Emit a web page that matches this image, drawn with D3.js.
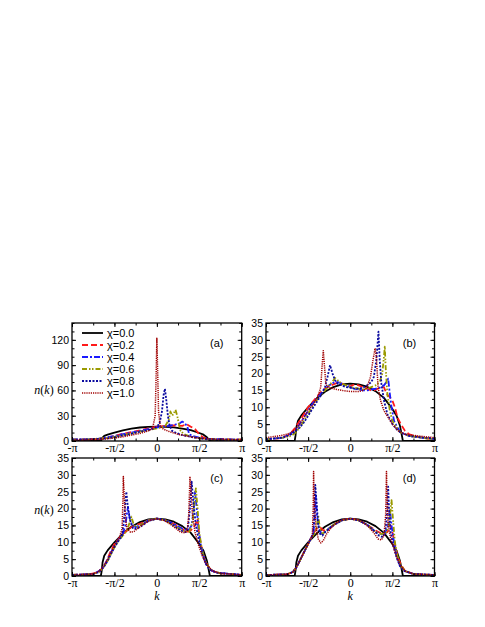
<!DOCTYPE html>
<html>
<head>
<meta charset="utf-8">
<script src="https://cdn.jsdelivr.net/npm/d3@7"></script>
<style>
  body { margin: 0; background: #fff; }
  svg { display: block; }
  .tick text { font-family: "Liberation Sans", Arial, sans-serif; font-size: 10.5px; fill: #000; }
  .xax .tick text { font-family: "Liberation Serif", "Times New Roman", serif; font-size: 12px; }
</style>
</head>
<body>
<script>
// momentum distributions n(k), k in units of pi
var chiLabels = ["\u03c7=0.0", "\u03c7=0.2", "\u03c7=0.4", "\u03c7=0.6", "\u03c7=0.8", "\u03c7=1.0"];
var kTicks = [-1, -0.5, 0, 0.5, 1];
var kTickLabels = ["-\u03c0", "-\u03c0/2", "0", "\u03c0/2", "\u03c0"];
var panelNames = ["(a)", "(b)", "(c)", "(d)"];

// chi = 0.0 is the same curve in every panel
var chi00 = [[-1,0],[-0.66,0],[-0.65,1.5],[-0.64,4],[-0.62,6],[-0.58,7.6],[-0.5,10],[-0.4,12.6],[-0.3,14.6],[-0.2,16],[-0.1,16.8],[0,17],[0.1,16.8],[0.2,16.1],[0.3,14.8],[0.4,12.8],[0.5,9.5],[0.55,7.5],[0.59,4.5],[0.61,2],[0.625,0],[1,0]];

// panel (a)
var a02 = [[-1,2],[-0.9,1.5],[-0.8,2.5],[-0.7,2],[-0.6,4],[-0.5,6],[-0.4,8.5],[-0.3,10.5],[-0.2,12.5],[-0.1,15],[0,17],[0.1,18],[0.2,18.5],[0.3,18],[0.35,20],[0.4,17],[0.45,14],[0.5,8],[0.55,4],[0.6,2.5],[0.7,2],[0.8,2.5],[0.9,1.5],[1,2]];
var a04 = [[-1,2],[-0.8,2],[-0.7,2.5],[-0.6,4],[-0.5,6],[-0.4,8],[-0.3,10],[-0.2,12],[-0.1,14],[0,16],[0.1,17.5],[0.2,19],[0.27,21],[0.3,23],[0.33,21],[0.36,17],[0.38,8],[0.42,6],[0.5,4],[0.6,2.5],[0.8,2],[1,1.5]];
var a06 = [[-1,1.5],[-0.8,2],[-0.6,3.5],[-0.5,5],[-0.4,7],[-0.3,9],[-0.2,11],[-0.1,13],[0,15],[0.05,16],[0.1,18],[0.14,25],[0.16,35],[0.18,30],[0.2,33],[0.22,37],[0.24,30],[0.26,20],[0.28,12],[0.32,8],[0.4,5],[0.5,3.5],[0.6,2],[0.8,1.5],[1,1.5]];
var a08 = [[-1,1.5],[-0.8,2],[-0.6,3],[-0.5,4.5],[-0.4,6.5],[-0.3,8.5],[-0.2,11],[-0.1,13],[-0.03,15],[0.03,20],[0.06,35],[0.08,55],[0.095,62],[0.11,50],[0.13,30],[0.15,18],[0.18,12],[0.22,10],[0.3,7],[0.4,5],[0.5,3],[0.6,2],[0.8,1.5],[1,1.5]];
var a10 = [[-1,1],[-0.8,1.5],[-0.6,2.5],[-0.5,3.5],[-0.4,5],[-0.3,7],[-0.2,9],[-0.1,12],[-0.05,15],[-0.02,30],[-0.01,70],[0,122],[0.01,80],[0.02,35],[0.04,17],[0.08,14],[0.15,11],[0.25,8],[0.35,6],[0.45,4],[0.55,3],[0.7,2],[0.85,1.5],[1,1.5]];

// panel (b)
var b02 = [[-1,0.5],[-0.85,0.8],[-0.75,1.5],[-0.7,2.5],[-0.65,4],[-0.6,6],[-0.55,8],[-0.5,10],[-0.45,11.5],[-0.4,13],[-0.35,14.5],[-0.3,15.5],[-0.25,16.3],[-0.2,16.8],[-0.15,17.3],[-0.1,17],[-0.05,16.5],[0,16.2],[0.05,16.8],[0.1,16.5],[0.15,16],[0.2,15.5],[0.25,15],[0.3,15.2],[0.35,15.8],[0.4,16],[0.43,14],[0.47,13],[0.5,12],[0.53,10],[0.56,7],[0.6,5],[0.65,3],[0.7,2],[0.8,1.2],[0.9,0.8],[1,0.5]];
var b04 = [[-1,0.5],[-0.8,1],[-0.72,2],[-0.66,3],[-0.6,5],[-0.55,7],[-0.5,9],[-0.45,11],[-0.4,12.5],[-0.35,14],[-0.3,15.5],[-0.25,16.5],[-0.2,17.3],[-0.15,17.5],[-0.1,17],[-0.05,16.5],[0,16],[0.05,15.5],[0.1,15.3],[0.15,15],[0.2,15],[0.25,15.3],[0.3,15.5],[0.35,15.8],[0.4,16.5],[0.43,17.5],[0.45,18.5],[0.47,14],[0.49,10],[0.52,6],[0.56,4],[0.6,2.5],[0.7,1.5],[0.85,1],[1,0.5]];
var b06 = [[-1,0.5],[-0.8,1],[-0.7,1.5],[-0.65,2.5],[-0.6,4],[-0.55,6],[-0.5,8],[-0.45,10],[-0.4,12],[-0.35,13.5],[-0.3,15],[-0.25,16.5],[-0.2,18],[-0.18,18.7],[-0.15,18],[-0.1,17],[-0.05,16.5],[0,16],[0.05,15.8],[0.1,15.5],[0.15,15.3],[0.2,15.5],[0.25,16],[0.3,16.5],[0.35,17.5],[0.38,20],[0.4,25],[0.41,28],[0.42,22],[0.44,14],[0.47,9],[0.5,6],[0.55,4],[0.6,2.5],[0.7,1.5],[0.85,1],[1,0.5]];
var b08 = [[-1,0.5],[-0.8,1],[-0.7,2],[-0.65,3],[-0.6,4],[-0.55,5.5],[-0.5,7.5],[-0.45,9.5],[-0.4,11.5],[-0.35,13.5],[-0.3,16],[-0.27,19],[-0.24,22.5],[-0.21,20],[-0.18,18],[-0.15,17],[-0.1,16.5],[-0.05,16],[0,15.8],[0.05,15.5],[0.1,15.5],[0.15,15.8],[0.2,16.5],[0.25,17.5],[0.28,19],[0.31,24],[0.335,32.4],[0.35,24],[0.37,17],[0.4,12],[0.44,8],[0.5,5],[0.55,3.5],[0.6,2.5],[0.7,1.5],[0.85,1],[1,0.8]];
var b10 = [[-1,1],[-0.85,1.5],[-0.75,2],[-0.7,2.5],[-0.65,3.5],[-0.6,5],[-0.55,7],[-0.5,9],[-0.45,10.5],[-0.42,11.6],[-0.38,13.5],[-0.35,16],[-0.335,22],[-0.32,26.8],[-0.305,22],[-0.29,17],[-0.27,16],[-0.2,15.5],[-0.1,15],[0,14.7],[0.1,14.7],[0.15,15],[0.2,16],[0.24,19],[0.27,24],[0.295,27.5],[0.31,25],[0.33,16],[0.36,12],[0.4,9],[0.45,7],[0.5,5],[0.57,3],[0.65,2],[0.8,1.5],[1,1]];

// panel (c)
var c02 = [[-1,0.3],[-0.8,0.5],[-0.7,1],[-0.65,2],[-0.6,4],[-0.55,7],[-0.5,9.5],[-0.45,11],[-0.4,12.5],[-0.35,13.5],[-0.3,14.5],[-0.25,15],[-0.2,15.5],[-0.1,16.5],[0,17],[0.1,16.5],[0.2,15.5],[0.3,14],[0.35,13],[0.4,13.5],[0.45,15],[0.48,17],[0.5,12],[0.53,8],[0.56,5],[0.6,3],[0.65,1.5],[0.75,0.8],[1,0.3]];
var c04 = [[-1,0.3],[-0.75,0.6],[-0.68,1.5],[-0.62,3],[-0.58,5],[-0.54,7],[-0.5,9],[-0.45,11],[-0.4,12.5],[-0.37,15],[-0.35,19],[-0.34,20.5],[-0.32,17],[-0.29,15],[-0.25,14.5],[-0.2,15],[-0.1,16.5],[0,17],[0.1,16.5],[0.2,15.5],[0.3,14],[0.37,13.5],[0.41,15],[0.43,19],[0.45,25],[0.47,20],[0.49,14],[0.52,9],[0.55,6],[0.58,3.5],[0.62,2],[0.7,1],[1,0.3]];
var c06 = [[-1,0.3],[-0.75,0.6],[-0.68,1.2],[-0.63,2.5],[-0.58,4.5],[-0.54,6.5],[-0.5,8.5],[-0.45,10.5],[-0.4,12],[-0.35,13.5],[-0.32,16],[-0.3,17.6],[-0.27,15],[-0.24,14.5],[-0.2,15],[-0.1,16.5],[0,17],[0.1,16.5],[0.2,15],[0.3,13.5],[0.38,13],[0.42,16],[0.44,21],[0.46,26],[0.48,20],[0.5,13],[0.53,8],[0.56,5],[0.6,3],[0.65,1.5],[0.75,0.8],[1,0.3]];
var c08 = [[-1,0.3],[-0.75,0.6],[-0.68,1.2],[-0.63,2.5],[-0.58,4.5],[-0.54,6.5],[-0.5,8.5],[-0.45,10.5],[-0.41,12],[-0.39,16],[-0.37,22],[-0.36,25],[-0.34,20],[-0.31,16],[-0.28,14],[-0.24,14],[-0.2,14.5],[-0.1,16.3],[0,17],[0.1,16.5],[0.2,15],[0.28,13.5],[0.34,13],[0.37,15],[0.39,20],[0.41,28],[0.43,22],[0.46,15],[0.5,10],[0.54,6],[0.58,3.5],[0.63,1.8],[0.7,1],[1,0.3]];
var c10 = [[-1,0.3],[-0.75,0.6],[-0.68,1.5],[-0.64,2.5],[-0.6,4],[-0.56,6],[-0.52,8],[-0.48,10],[-0.44,11.5],[-0.41,14],[-0.4,22],[-0.395,29.5],[-0.385,24],[-0.37,17],[-0.35,14],[-0.31,13],[-0.27,13.2],[-0.22,14.2],[-0.15,15.5],[-0.08,16.5],[0,17],[0.08,16.5],[0.15,15.5],[0.22,14.2],[0.28,13],[0.33,12.8],[0.36,14],[0.375,18],[0.385,25],[0.39,29.5],[0.4,26],[0.42,18],[0.45,13],[0.48,10],[0.52,7],[0.56,4.5],[0.6,3],[0.66,1.5],[0.75,0.8],[1,0.3]];

// panel (d)
var d02 = [[-1,0.3],[-0.75,0.5],[-0.68,1.2],[-0.64,2.5],[-0.6,4.5],[-0.56,6.5],[-0.52,8.5],[-0.48,10.5],[-0.44,12.5],[-0.4,14],[-0.36,14.5],[-0.32,13.5],[-0.28,13.5],[-0.24,14.2],[-0.2,15.2],[-0.1,16.5],[0,17],[0.1,16.5],[0.2,15.2],[0.3,13.5],[0.38,12.5],[0.44,13],[0.48,15],[0.5,13],[0.53,9.5],[0.56,6],[0.6,3.5],[0.65,1.5],[0.75,0.6],[1,0.3]];
var d04 = [[-1,0.3],[-0.75,0.5],[-0.68,1.2],[-0.64,2.5],[-0.6,4.5],[-0.56,6.5],[-0.52,8.5],[-0.48,10.5],[-0.44,12.5],[-0.42,17],[-0.41,24],[-0.395,18],[-0.37,14],[-0.34,12.5],[-0.3,13],[-0.25,14.2],[-0.2,15.2],[-0.1,16.5],[0,17],[0.1,16.5],[0.2,15.2],[0.28,13.5],[0.35,12.5],[0.41,12.5],[0.45,15],[0.47,20],[0.49,15],[0.52,10],[0.55,6],[0.59,3],[0.64,1.5],[0.75,0.6],[1,0.3]];
var d06 = [[-1,0.3],[-0.75,0.5],[-0.68,1.2],[-0.64,2.5],[-0.6,4.5],[-0.56,6.5],[-0.52,8.5],[-0.48,10.5],[-0.44,12],[-0.41,13],[-0.39,16],[-0.38,18],[-0.36,14],[-0.33,12.5],[-0.29,13.3],[-0.25,14.2],[-0.2,15.2],[-0.1,16.5],[0,17],[0.1,16.5],[0.2,15.2],[0.28,13.5],[0.35,12.5],[0.42,12.5],[0.46,15],[0.49,22.5],[0.51,16],[0.53,10],[0.56,6],[0.6,3],[0.65,1.5],[0.75,0.6],[1,0.3]];
var d08 = [[-1,0.3],[-0.75,0.5],[-0.68,1.2],[-0.64,2.5],[-0.6,4.5],[-0.56,6.5],[-0.52,8.5],[-0.48,10.5],[-0.44,12.5],[-0.43,17],[-0.415,27],[-0.4,22],[-0.38,15],[-0.36,12.5],[-0.33,12],[-0.3,13],[-0.25,14],[-0.2,15],[-0.1,16.5],[0,17],[0.1,16.5],[0.2,15.2],[0.28,13.5],[0.34,12],[0.39,11.5],[0.42,14],[0.44,20],[0.45,26.5],[0.46,20],[0.48,13],[0.51,9],[0.55,5.5],[0.59,3],[0.64,1.5],[0.75,0.6],[1,0.3]];
var d10 = [[-1,0.3],[-0.75,0.5],[-0.68,1.2],[-0.64,2.5],[-0.6,4.5],[-0.56,6.5],[-0.52,8.5],[-0.48,10.5],[-0.45,12],[-0.44,20],[-0.435,31],[-0.43,24],[-0.41,15],[-0.38,11],[-0.35,9.8],[-0.32,10.5],[-0.28,12.5],[-0.22,14.5],[-0.15,16],[-0.08,16.8],[0,17],[0.08,16.8],[0.15,16],[0.22,14.5],[0.28,12.8],[0.33,11],[0.37,10.7],[0.4,12],[0.42,18],[0.43,31],[0.435,25],[0.45,15],[0.48,11],[0.52,8],[0.56,5],[0.6,3],[0.65,1.5],[0.75,0.6],[1,0.3]];

var yMaxA = 140, yMaxB = 35;
var yMajorA = [0, 30, 60, 90, 120], yMajorB = [0, 5, 10, 15, 20, 25, 30, 35];

// styles
var colors = ["#000000", "#ff1a1a", "#1a1aff", "#9a9a00", "#0a0aa0", "#a00000"];
var dashes = [null, "6,3", "6,2,2,2", "5,2,1.5,1.5,1.5,2", "2,1.5", "1.2,1"];
var widths = [1.8, 1.8, 1.8, 1.8, 1.8, 1.5];

var W = 485, H = 627;
var svg = d3.select("body").append("svg").attr("width", W).attr("height", H);

var cols = [[72, 241.7], [266, 434.5]];
var rows = [[323, 441], [458, 576]];

var panels = [
  {series: [chi00, a02, a04, a06, a08, a10], ymax: yMaxA, major: yMajorA, minorStep: 10, col: 0, row: 0},
  {series: [chi00, b02, b04, b06, b08, b10], ymax: yMaxB, major: yMajorB, minorStep: 2.5, col: 1, row: 0},
  {series: [chi00, c02, c04, c06, c08, c10], ymax: yMaxB, major: yMajorB, minorStep: 2.5, col: 0, row: 1},
  {series: [chi00, d02, d04, d06, d08, d10], ymax: yMaxB, major: yMajorB, minorStep: 2.5, col: 1, row: 1}
];

var kMinor = d3.range(-1, 1.001, 0.25);

panels.forEach(function(p, pi) {
  var x0 = cols[p.col][0], x1 = cols[p.col][1];
  var y0 = rows[p.row][0], y1 = rows[p.row][1];

  var x = d3.scaleLinear().domain([-1, 1]).range([x0, x1]);
  var y = d3.scaleLinear().domain([0, p.ymax]).range([y1, y0]);
  var yMinor = d3.range(0, p.ymax + 0.001, p.minorStep);

  svg.append("clipPath").attr("id", "clip" + pi)
    .append("rect").attr("x", x0).attr("y", y0).attr("width", x1 - x0).attr("height", y1 - y0);

  var line = d3.line()
    .x(function(d) { return x(d[0]); })
    .y(function(d) { return y(d[1]); });

  var g = svg.append("g").attr("clip-path", "url(#clip" + pi + ")");
  p.series.forEach(function(s, i) {
    g.append("path")
      .datum(s)
      .attr("d", line)
      .attr("fill", "none")
      .attr("stroke", colors[i])
      .attr("stroke-width", widths[i])
      .attr("stroke-dasharray", dashes[i])
      .attr("stroke-linejoin", "round");
  });

  // minor ticks, all four sides, pointing in
  var axes = [
    d3.axisBottom(x).tickValues(kMinor).tickSize(-2.5).tickFormat(""),
    d3.axisTop(x).tickValues(kMinor).tickSize(-2.5).tickFormat(""),
    d3.axisLeft(y).tickValues(yMinor).tickSize(-2.5).tickFormat(""),
    d3.axisRight(y).tickValues(yMinor).tickSize(-2.5).tickFormat("")
  ];
  var pos = ["translate(0," + y1 + ")", "translate(0," + y0 + ")", "translate(" + x0 + ",0)", "translate(" + x1 + ",0)"];
  axes.forEach(function(ax, j) {
    svg.append("g").attr("transform", pos[j]).call(ax).call(function(s) { s.select(".domain").remove(); });
  });

  // major ticks
  var xb = svg.append("g").attr("class", "xax").attr("transform", pos[0])
    .call(d3.axisBottom(x).tickValues(kTicks).tickSize(-4).tickPadding(2)
      .tickFormat(function(d, i) { return kTickLabels[i]; }));
  xb.select(".domain").remove();
  svg.append("g").attr("transform", pos[1])
    .call(d3.axisTop(x).tickValues(kTicks).tickSize(-4).tickFormat(""))
    .select(".domain").remove();
  var yl = svg.append("g").attr("transform", pos[2])
    .call(d3.axisLeft(y).tickValues(p.major).tickSize(-4).tickPadding(3));
  yl.select(".domain").remove();
  svg.append("g").attr("transform", pos[3])
    .call(d3.axisRight(y).tickValues(p.major).tickSize(-4).tickFormat(""))
    .select(".domain").remove();

  svg.selectAll(".tick line").attr("stroke", "#000").attr("stroke-width", 1);

  svg.append("rect")
    .attr("x", x0).attr("y", y0).attr("width", x1 - x0).attr("height", y1 - y0)
    .attr("fill", "none").attr("stroke", "#000").attr("stroke-width", 1.3);

  svg.append("text")
    .attr("x", x1 - 25).attr("y", y0 + 24)
    .attr("text-anchor", "middle")
    .style("font-family", "Liberation Sans, Arial, sans-serif")
    .style("font-size", "11px")
    .text(panelNames[pi]);

  if (p.col === 0) {
    var t = svg.append("text")
      .attr("x", 44).attr("y", p.row === 0 ? 394 : 514)
      .attr("text-anchor", "middle")
      .style("font-family", "Liberation Serif, Times New Roman, serif")
      .style("font-size", "12px");
    t.append("tspan").style("font-style", "italic").text("n");
    t.append("tspan").text("(");
    t.append("tspan").style("font-style", "italic").text("k");
    t.append("tspan").text(")");
  }
  if (p.row === 1) {
    svg.append("text")
      .attr("x", x(0)).attr("y", y1 + 24)
      .attr("text-anchor", "middle")
      .style("font-family", "Liberation Serif, Times New Roman, serif")
      .style("font-size", "12px")
      .style("font-style", "italic")
      .text("k");
  }
});

// legend in panel (a)
var legend = svg.append("g").attr("transform", "translate(82,333)");
chiLabels.forEach(function(lab, i) {
  var row = legend.append("g").attr("transform", "translate(0," + (i * 12) + ")");
  row.append("line")
    .attr("x1", 0).attr("x2", 21).attr("y1", 0).attr("y2", 0)
    .attr("stroke", colors[i])
    .attr("stroke-width", widths[i])
    .attr("stroke-dasharray", dashes[i]);
  row.append("text")
    .attr("x", 25).attr("y", 4)
    .style("font-family", "Liberation Sans, Arial, sans-serif")
    .style("font-size", "11px")
    .text(lab);
});
</script>
</body>
</html>
